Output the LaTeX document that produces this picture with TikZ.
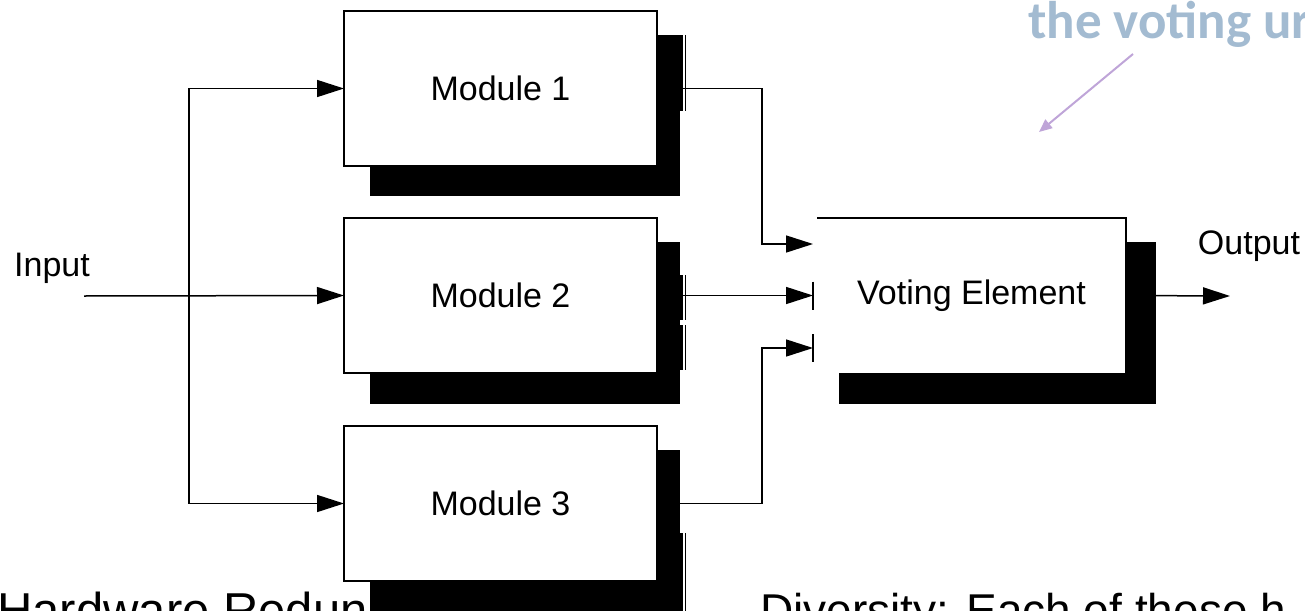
\documentclass[tikz,border=0pt]{standalone}
\usepackage{fontspec}
\setmainfont{Liberation Sans}
\newfontfamily\carlito{Carlito}
\usetikzlibrary{arrows.meta,calc}
\definecolor{titleblue}{HTML}{A3BBD1}
\definecolor{lilac}{HTML}{BFA5D8}
\begin{document}
\begin{tikzpicture}[x=1pt,y=-1pt,
  module/.style={draw, line width=1.5pt, fill=white, minimum width=313pt, minimum height=155pt,
    inner sep=0pt, outer sep=0pt, font=\fontsize{34}{40}\selectfont},
  voter/.style={fill=white, minimum width=309pt, minimum height=155pt, inner sep=0pt, outer sep=0pt,
    font=\fontsize{34}{40}\selectfont},
  conn/.style={line width=1.5pt},
  arr/.style={line width=1.5pt, -{Triangle[length=27pt,width=17pt]}},
  lbl/.style={font=\fontsize{34}{40}\selectfont, inner sep=0pt},
  bigtext/.style={font=\fontsize{46}{52}\selectfont, inner sep=0pt, anchor=base west},
  shade/.style={fill=black},
  bar/.style={line width=1.5pt}
]
\path[use as bounding box] (0,0) rectangle (1305,610);
\clip (0,0) rectangle (1305,610);

% bottom text (partly hidden by shadow)
\node[bigtext, font=\fontsize{49}{55}\selectfont] (hw) at (-3,627) {Hardware Redun};
\node[bigtext] (div) at (760,626) {Diversity: Each of these h};

% shadows
\fill[shade] (370,35) rectangle (680,196);
\fill[shade] (680,35) rectangle (683,111);
\draw[bar] (685.5,35) -- (685.5,111);

\fill[shade] (370,242) rectangle (680,404);
\fill[shade] (680,275) rectangle (683,320);
\fill[shade] (680,325) rectangle (683,370);
\draw[bar] (685.5,275) -- (685.5,320);
\draw[bar] (685.5,325) -- (685.5,370);

\fill[shade] (370,450) rectangle (680,615);
\fill[shade] (680,533) rectangle (683,615);
\draw[bar] (685.5,533) -- (685.5,615);

\fill[shade] (839,242) rectangle (1156,404);

% modules
\node[module] (m1) at (500.5,88.5) {Module 1};
\node[module] (m2) at (500.5,295.5) {Module 2};
\node[module] (m3) at (500.5,503.5) {Module 3};

% voting element
\node[voter] (ve) at (971.5,295.5) {Voting Element};
\draw[conn] (ve.north west) -- (ve.north east) -- (ve.south east);

% input side
\node[lbl] (inlbl) at (52,268) {Input};
\coordinate (in) at (84,296);
\coordinate (br) at (189,296);
\draw[arr] (in) -- (m2.west);
\draw[arr] (br) |- (m1.west);
\draw[arr] (br) |- (m3.west);

% voting inputs
\coordinate (v1) at (813,244);
\coordinate (v2) at (813,295.5);
\coordinate (v3) at (813,348);
\draw[arr] (m1.east) -- ++(105,0) |- (v1);
\draw[arr] (m2.east) -- (v2);
\draw[arr] (m3.east) -- ++(105,0) |- (v3);
\draw[bar] ($(v2)+(0,-14)$) -- ($(v2)+(0,14)$);
\draw[bar] ($(v3)+(0,-14)$) -- ($(v3)+(0,14)$);

% output
\coordinate (out) at (1230,296);
\draw[arr] (ve.east) -- (out);
\node[lbl] (outlbl) at (1249,246) {Output};

% annotation
\node[font=\carlito\bfseries\fontsize{53}{60}\selectfont, text=titleblue, inner sep=0pt, anchor=base west] (note) at (1028,39) {the voting ur};
\coordinate (pa) at (1133,54);
\coordinate (pb) at (1039,132);
\draw[lilac, line width=2pt, -{Triangle[length=13pt,width=11pt]}] (pa) -- (pb);
\end{tikzpicture}
\end{document}
